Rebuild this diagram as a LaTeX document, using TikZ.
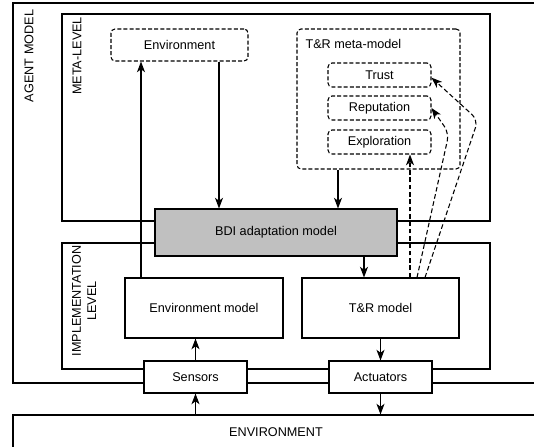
\documentclass[tikz,border=0pt]{standalone}
\usepackage{fontspec}
\setmainfont{Liberation Sans}
\usetikzlibrary{arrows.meta}

\definecolor{bdigray}{RGB}{192,192,192}

\begin{document}
\begin{tikzpicture}[x=0.75pt, y=-0.75pt, line width=0.8pt,
    >={Stealth[length=8pt,width=6pt,inset=2.2pt]},
    every node/.style={font=\fontsize{9.5}{11.5}\selectfont},
    box/.style={draw, fill=white, inner sep=0pt},
    dashbox/.style={draw, dash pattern=on 3pt off 1.6pt, rounded corners=3pt, inner sep=0pt},
    dasharrow/.style={->, dash pattern=on 3.5pt off 2pt},
    vlabel/.style={rotate=90, align=center, inner sep=0pt}]
\useasboundingbox (0,0) rectangle (534,446);
\clip (0,0) rectangle (534,446);

% agent model and its two levels
\draw (13,3) rectangle (540,383);
\draw (62,14) rectangle (490,221);
\draw (62,243) rectangle (490,369);
\node[vlabel] (agentlbl) at (29,56) {AGENT MODEL};
\node[vlabel] (metalbl) at (77,56) {META-LEVEL};
\node[vlabel] (impllbl) at (84,301) {IMPLEMENTATION\\LEVEL};

% meta-level
\node[dashbox, minimum width=102.75pt, minimum height=24pt] (envmeta) at (179.5,45) {Environment};
\node[dashbox, minimum width=122.25pt, minimum height=105pt] (trmeta) at (378.5,99) {};
\node[anchor=west, inner sep=0pt] (trlabel) at (305,44) {T\&R meta-model};
\node[dashbox, minimum width=77.25pt, minimum height=18pt] (trust) at (379.5,75) {Trust};
\node[dashbox, minimum width=77.25pt, minimum height=18pt] (reputation) at (379.5,108) {Reputation};
\node[dashbox, minimum width=77.25pt, minimum height=18pt] (exploration) at (379.5,142) {Exploration};

% adaptation layer between the levels
\node[box, fill=bdigray, minimum width=181.5pt, minimum height=35.25pt] (bdi) at (276,232.5) {BDI adaptation model};

% implementation level
\node[box, minimum width=118.5pt, minimum height=45pt] (envmodel) at (204,308) {Environment model};
\node[box, minimum width=117.75pt, minimum height=45pt] (trmodel) at (380.5,308) {T\&R model};
\node[box, minimum width=77.25pt, minimum height=24pt] (sensors) at (195.5,377) {Sensors};
\node[box, minimum width=77.25pt, minimum height=24pt] (actuators) at (380.5,377) {Actuators};

% outside world
\node[box, minimum width=394.5pt, minimum height=25.5pt] (world) at (276,432) {ENVIRONMENT};

% solid flows
\draw[->] (world.north -| sensors.south) -- (sensors.south);
\draw[->] (sensors.north) -- (envmodel.south -| sensors.north);
\draw[->] (envmodel.north -| 141,0) -- (envmeta.south -| 141,0);
\draw[->] (envmeta.south -| 219,0) -- (bdi.north -| 219,0);
\draw[->] (trmeta.south -| 338,0) -- (bdi.north -| 338,0);
\draw[->] (bdi.south -| 364,0) -- (trmodel.north -| 364,0);
\draw[->] (trmodel.south) -- (actuators.north);
\draw[->] (actuators.south) -- (world.north -| actuators.south);

% feedback to the meta-model
\draw[dasharrow] (trmodel.north -| 410,0) -- (exploration.south -| 410,0);
\draw[dasharrow, rounded corners=6pt] (trmodel.north -| 417,0) -- (449,133) -- (reputation.east);
\draw[dasharrow, rounded corners=6pt] (trmodel.north -| 425,0) -- (478,120) -- ([yshift=-2pt]trust.east);
\end{tikzpicture}
\end{document}
